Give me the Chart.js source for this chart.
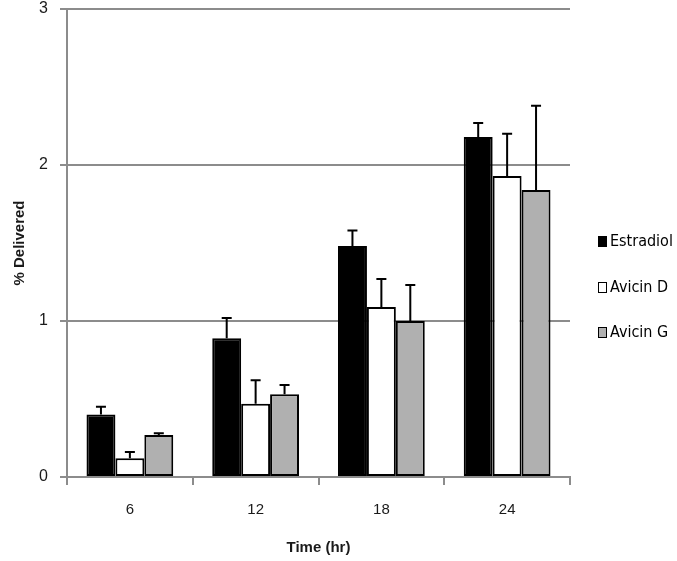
<!DOCTYPE html>
<html>
<head>
<meta charset="utf-8">
<script src="https://cdn.jsdelivr.net/npm/chart.js@4"></script>
<style>
  html, body { margin: 0; padding: 0; background: #fff; }
  #wrap { width: 677px; height: 561px; }
</style>
</head>
<body>
<div id="wrap"><canvas id="chart" width="677" height="561"></canvas></div>
<script>
// values
const hours = ['6', '12', '18', '24'];
const estradiol = [0.40, 0.89, 1.48, 2.18];
const avicinD = [0.12, 0.47, 1.09, 1.93];
const avicinG = [0.27, 0.53, 1.00, 1.84];
// upper error (SD) for each bar
const estradiolErr = [0.05, 0.13, 0.10, 0.09];
const avicinDErr = [0.04, 0.15, 0.18, 0.27];
const avicinGErr = [0.01, 0.06, 0.23, 0.54];
const yTicks = [0, 1, 2, 3];

const grey = '#8c8c8c';

// draws the upward error bars using the chart scales
const errorBars = {
  id: 'errorBars',
  afterDatasetsDraw(chart) {
    const ctx = chart.ctx;
    const y = chart.scales.y;
    ctx.save();
    ctx.strokeStyle = '#000';
    ctx.lineWidth = 2;
    chart.data.datasets.forEach((ds, i) => {
      const meta = chart.getDatasetMeta(i);
      meta.data.forEach((bar, j) => {
        const top = y.getPixelForValue(ds.data[j] + ds.errors[j]);
        ctx.beginPath();
        ctx.moveTo(bar.x, bar.y);
        ctx.lineTo(bar.x, top);
        ctx.moveTo(bar.x - 5, top);
        ctx.lineTo(bar.x + 5, top);
        ctx.stroke();
      });
    });
    ctx.restore();
  }
};

// legend on the right, drawn by hand so the plot keeps its width
const sideLegend = {
  id: 'sideLegend',
  afterDraw(chart) {
    const ctx = chart.ctx;
    const rows = [242, 288, 333];
    ctx.save();
    ctx.font = '16px "Liberation Sans Narrow", "DejaVu Sans Condensed", sans-serif';
    ctx.textBaseline = 'middle';
    chart.data.datasets.forEach((ds, i) => {
      const cy = rows[i];
      ctx.fillStyle = ds.backgroundColor;
      ctx.fillRect(598, cy - 6, 9, 11);
      ctx.strokeStyle = '#000';
      ctx.lineWidth = 1;
      ctx.strokeRect(598.5, cy - 5.5, 8, 10);
      ctx.fillStyle = '#000';
      ctx.fillText(ds.label, 610, cy);
    });
    ctx.restore();
  }
};

new Chart(document.getElementById('chart'), {
  type: 'bar',
  data: {
    labels: hours,
    datasets: [
      { label: 'Estradiol', data: estradiol, errors: estradiolErr, backgroundColor: '#000000' },
      { label: 'Avicin D', data: avicinD, errors: avicinDErr, backgroundColor: '#ffffff' },
      { label: 'Avicin G', data: avicinG, errors: avicinGErr, backgroundColor: '#b0b0b0' }
    ].map(d => Object.assign(d, {
      borderColor: '#000',
      borderWidth: 2,
      borderSkipped: false,
      barPercentage: 1,
      categoryPercentage: 0.69
    }))
  },
  options: {
    responsive: false,
    animation: false,
    layout: { padding: { top: 0, right: 107, left: 0, bottom: 0 } },
    plugins: { legend: { display: false }, tooltip: { enabled: false } },
    scales: {
      x: {
        afterFit: s => { s.height = 84; },
        grid: { drawOnChartArea: false, drawTicks: true, tickLength: 8, offset: true, color: grey, lineWidth: 2 },
        border: { color: grey, width: 2 },
        ticks: { color: '#1a1a1a', padding: 16, font: { family: '"Liberation Sans", Arial, sans-serif', size: 15 } },
        title: {
          display: true, text: 'Time (hr)', color: '#1a1a1a',
          font: { family: '"Liberation Sans", Arial, sans-serif', size: 15, weight: 'bold' },
          padding: { top: 4, bottom: 4 }
        }
      },
      y: {
        min: 0,
        max: 3,
        // fixed width, and only enough room above for the top gridline label
        afterFit: s => { s.width = 67; s.paddingTop = 9; s.paddingBottom = 0; },
        afterBuildTicks: s => { s.ticks = yTicks.map(v => ({ value: v })); },
        grid: { color: grey, lineWidth: 2, tickLength: 7 },
        border: { color: grey, width: 2 },
        ticks: { color: '#1a1a1a', padding: 12, font: { family: '"Liberation Sans", Arial, sans-serif', size: 16, lineHeight: 1 } },
        title: {
          display: true, text: '% Delivered', color: '#1a1a1a',
          font: { family: '"Liberation Sans", Arial, sans-serif', size: 15, weight: 'bold' },
          padding: { top: 11, bottom: 0 }
        }
      }
    }
  },
  plugins: [errorBars, sideLegend]
});
</script>
</body>
</html>
